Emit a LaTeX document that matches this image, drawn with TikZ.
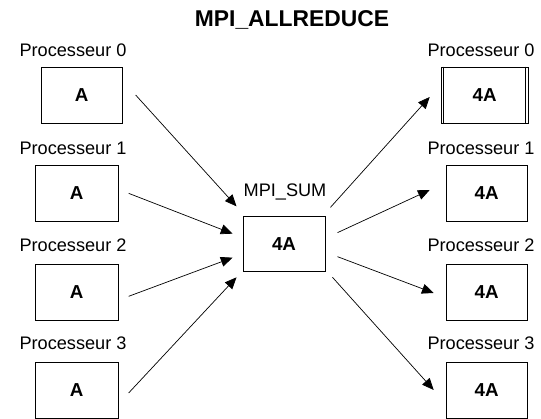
\documentclass[tikz,border=0pt]{standalone}
\usepackage{fontspec}
\setmainfont{Liberation Sans}
\usepackage{tikz}
\usetikzlibrary{arrows.meta}

\tikzset{
  procbox/.style={draw,line width=0.8pt,minimum width=2.49cm,minimum height=1.68cm,font=\fontsize{16}{18}\selectfont\bfseries},
  outbox/.style={procbox,minimum width=2.43cm},
  proclabel/.style={inner sep=0pt,font=\fontsize{15.5}{17}\selectfont},
  flow/.style={line width=0.6pt,-{Triangle[length=10pt,width=8.5pt]}}
}

\begin{document}
\begin{tikzpicture}
        \useasboundingbox (0,0) rectangle (16.23,12.57);
        % Title
        \node[inner sep=0pt,font=\fontsize{19.5}{22}\selectfont\bfseries] (title) at (8.76,11.97) {MPI\_ALLREDUCE};
        % Senders
        \node[proclabel] (in0lbl) at (2.19,11.07) {Processeur 0};
        \node[proclabel] (in1lbl) at (2.19,8.13) {Processeur 1};
        \node[proclabel] (in2lbl) at (2.19,5.22) {Processeur 2};
        \node[proclabel] (in3lbl) at (2.19,2.28) {Processeur 3};
        \node[procbox,minimum width=2.43cm] (in0) at (2.45,9.72) {A};
        \node[procbox] (in1) at (2.30,6.77) {A};
        \node[procbox] (in2) at (2.30,3.80) {A};
        \node[procbox] (in3) at (2.30,0.87) {A};
        % Reduction
        \node[proclabel] (sumlbl) at (8.55,6.81) {MPI\_SUM};
        \node[procbox,minimum width=2.46cm,minimum height=1.65cm] (sum) at (8.52,5.24) {4A};
        % Receivers
        \node[proclabel] (out0lbl) at (14.43,11.07) {Processeur 0};
        \node[proclabel] (out1lbl) at (14.43,8.13) {Processeur 1};
        \node[proclabel] (out2lbl) at (14.43,5.22) {Processeur 2};
        \node[proclabel] (out3lbl) at (14.43,2.28) {Processeur 3};
        \node[outbox,minimum width=2.61cm] (out0) at (14.54,9.72) {4A};
        \node[outbox] (out1) at (14.60,6.77) {4A};
        \node[outbox] (out2) at (14.60,3.80) {4A};
        \node[outbox] (out3) at (14.60,0.87) {4A};
        \draw[line width=0.6pt] ([xshift=0.09cm]out0.north west) -- ([xshift=0.09cm]out0.south west);
        \draw[line width=0.6pt] ([xshift=-0.09cm]out0.north east) -- ([xshift=-0.09cm]out0.south east);
        % Gather
        \draw[flow] ([xshift=0.39cm]in0.east) -- ([shift={(-0.18,0.3)}]sum.north west);
        \draw[flow] ([xshift=0.3cm]in1.east) -- ([shift={(-0.3,0.32)}]sum.west);
        \draw[flow] ([shift={(0.3,-0.12)}]in2.east) -- ([shift={(-0.3,-0.4)}]sum.west);
        \draw[flow] ([shift={(0.3,-0.09)}]in3.east) -- ([shift={(-0.18,-0.15)}]sum.south west);
        % Broadcast
        \draw[flow] ([shift={(0.15,0.27)}]sum.north east) -- ([shift={(-0.33,-0.06)}]out0.west);
        \draw[flow] ([shift={(0.36,0.35)}]sum.east) -- ([shift={(-0.48,0.1)}]out1.west);
        \draw[flow] ([shift={(0.36,-0.37)}]sum.east) -- ([shift={(-0.36,-0.02)}]out2.west);
        \draw[flow] ([shift={(0.21,-0.15)}]sum.south east) -- ([shift={(-0.36,0)}]out3.west);
      \end{tikzpicture}
\end{document}
